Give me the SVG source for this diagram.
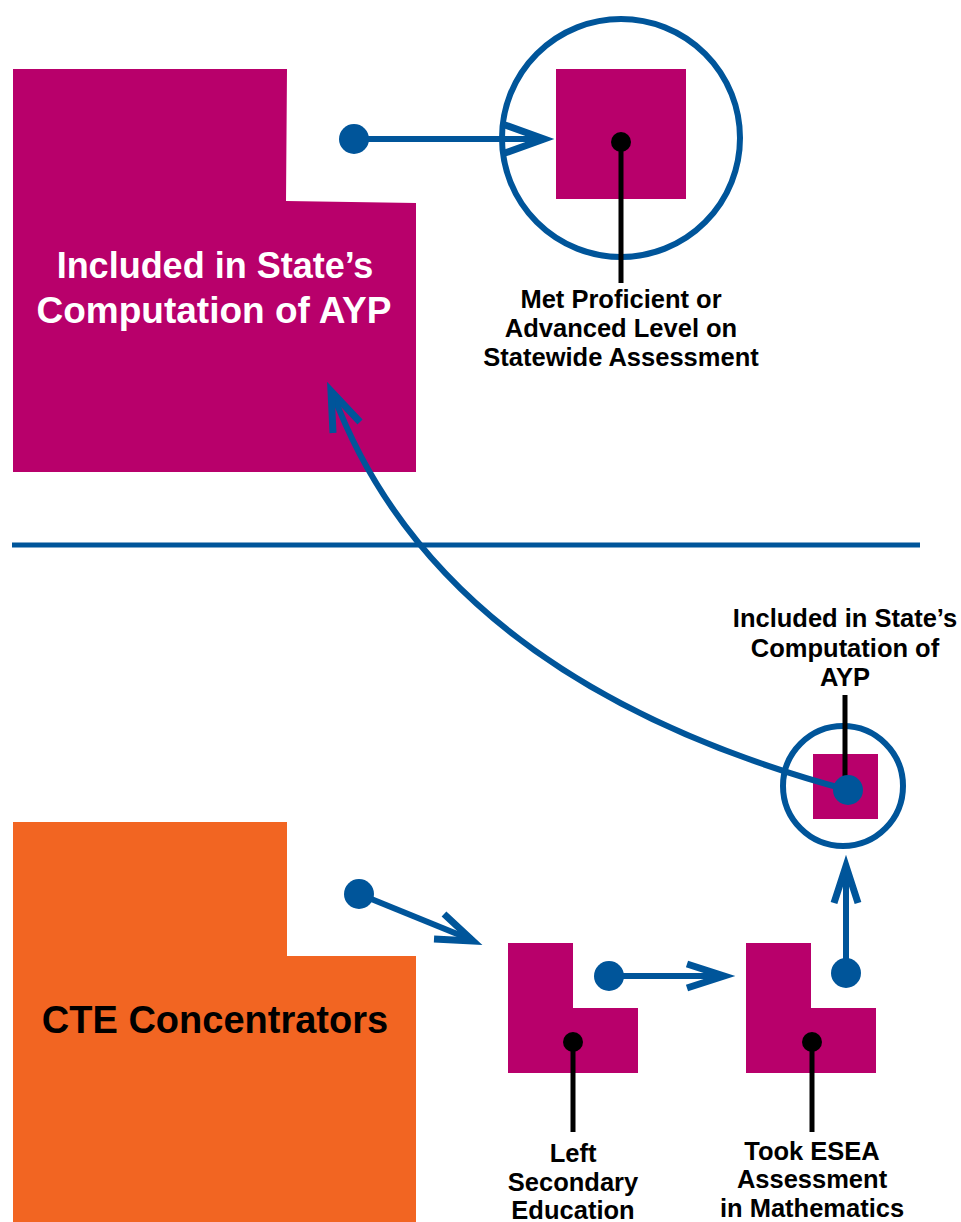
<svg xmlns="http://www.w3.org/2000/svg" width="961" height="1222" viewBox="0 0 961 1222">
<style>
.mag{fill:#B8006B}
.org{fill:#F26522}
.blue{stroke:#00559A;fill:none;stroke-width:6}
.bdot{fill:#00559A}
.kline{stroke:#000;stroke-width:5;fill:none}
.kdot{fill:#000}
.lbl{font-family:"Liberation Sans",Arial,sans-serif;font-weight:bold;font-size:25.5px;fill:#000;text-anchor:middle}
.big{font-family:"Liberation Sans",Arial,sans-serif;font-weight:bold;font-size:36px;text-anchor:middle}
.chev{stroke:#00559A;fill:none;stroke-width:7;stroke-linejoin:miter;stroke-miterlimit:10}
</style>
<rect width="961" height="1222" fill="#fff"/>
<g id="node-ayp-big">
<path class="mag" d="M13,69 L287,69 L286,201 L416,203 L416,472 L13,472 Z"/>
<text class="big" fill="#fff" x="215" y="278">Included in State’s</text>
<text class="big" fill="#fff" x="214" y="323" style="font-size:37px">Computation of AYP</text>
</g>
<g id="node-cte">
<path class="org" d="M13,822 L287,822 L287,956 L416,956 L416,1222 L13,1222 Z"/>
<text class="big" fill="#000" x="215" y="1033" style="font-size:38px">CTE Concentrators</text>
</g>
<g id="divider">
<line x1="12" y1="545" x2="920" y2="545" stroke="#00559A" stroke-width="5"/>
</g>
<g id="node-proficient">
<rect class="mag" x="556" y="69" width="130" height="130"/>
<circle class="blue" cx="621" cy="138" r="119"/>
<line class="kline" x1="621" y1="142" x2="621" y2="283"/>
<circle class="kdot" cx="621" cy="142" r="10"/>
<text class="lbl" x="621" y="308">Met Proficient or</text>
<text class="lbl" x="621" y="337">Advanced Level on</text>
<text class="lbl" x="621" y="366">Statewide Assessment</text>
</g>
<g id="node-ayp-small">
<rect class="mag" x="813" y="754" width="65" height="65"/>
<circle class="blue" cx="843" cy="786" r="60"/>
<line class="kline" x1="845" y1="695" x2="845" y2="790"/>
<text class="lbl" x="845" y="627">Included in State’s</text>
<text class="lbl" x="845" y="657">Computation of</text>
<text class="lbl" x="845" y="686">AYP</text>
</g>
<g id="node-left">
<path class="mag" d="M508,943 L573,943 L573,1008 L638,1008 L638,1073 L508,1073 Z"/>
<line class="kline" x1="573" y1="1042" x2="573" y2="1132"/>
<circle class="kdot" cx="573" cy="1042" r="10"/>
<text class="lbl" x="573" y="1162">Left</text>
<text class="lbl" x="573" y="1191">Secondary</text>
<text class="lbl" x="573" y="1219">Education</text>
</g>
<g id="node-took">
<path class="mag" d="M746,943 L811,943 L811,1008 L876,1008 L876,1073 L746,1073 Z"/>
<line class="kline" x1="812" y1="1042" x2="812" y2="1132"/>
<circle class="kdot" cx="812" cy="1042" r="10"/>
<text class="lbl" x="812" y="1160">Took ESEA</text>
<text class="lbl" x="812" y="1188">Assessment</text>
<text class="lbl" x="812" y="1217">in Mathematics</text>
</g>
<g id="connectors">
<line class="blue" x1="354" y1="139" x2="544" y2="139"/>
<polyline class="chev" points="505,125 544,139 505,153"/>
<circle class="bdot" cx="354" cy="139" r="15"/>

<path class="blue" d="M848,790 Q440,680 333,394"/>
<polyline class="chev" points="333,433 331,391 360,422"/>
<circle class="bdot" cx="848" cy="790" r="15"/>

<line class="blue" x1="359" y1="894" x2="472" y2="940"/>
<polyline class="chev" points="444,914 473,941 434,939"/>
<circle class="bdot" cx="359" cy="894" r="15"/>

<line class="blue" x1="609" y1="976" x2="724" y2="976"/>
<polyline class="chev" points="687,964 724,976 687,988"/>
<circle class="bdot" cx="609" cy="976" r="15"/>

<line class="blue" x1="846" y1="973" x2="846" y2="866"/>
<polyline class="chev" points="834,903 846,866 858,903"/>
<circle class="bdot" cx="846" cy="973" r="15"/>
</g>
</svg>
